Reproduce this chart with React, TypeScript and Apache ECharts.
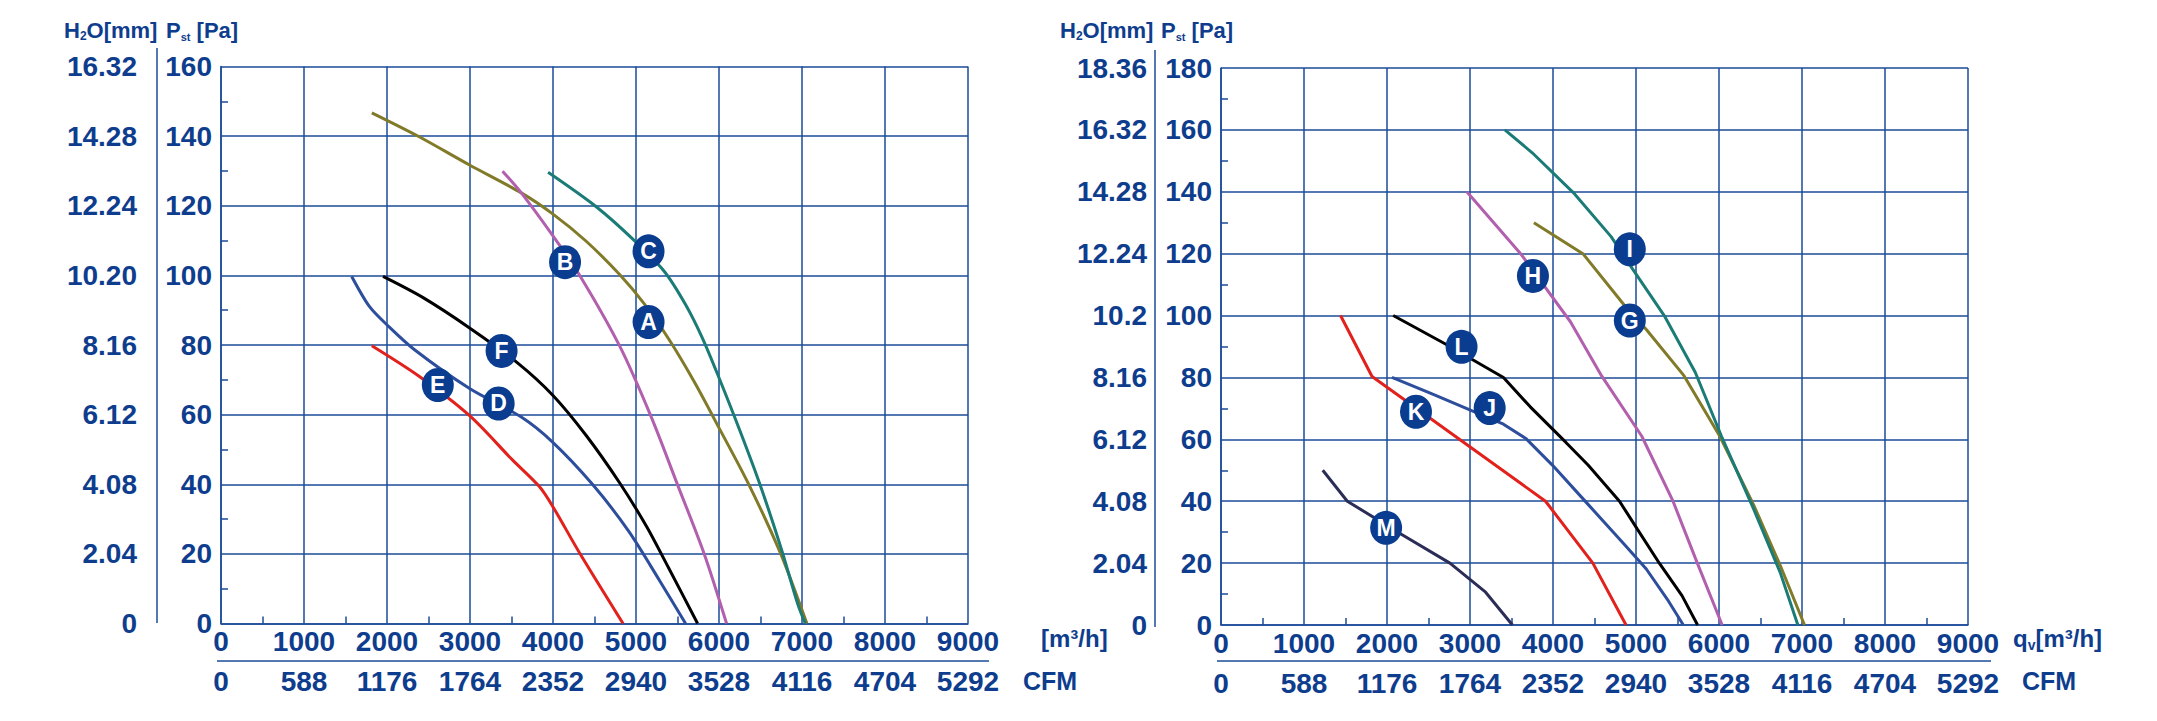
import React, { useEffect, useRef } from 'react';
import * as echarts from 'echarts';

// ---------- tick labels ----------
const FLOW_LABELS = ['0', '1000', '2000', '3000', '4000', '5000', '6000', '7000', '8000', '9000'];
const CFM_LABELS = ['0', '588', '1176', '1764', '2352', '2940', '3528', '4116', '4704', '5292'];
const H2O_LEFT = ['0', '2.04', '4.08', '6.12', '8.16', '10.20', '12.24', '14.28', '16.32'];
const H2O_RIGHT = ['0', '2.04', '4.08', '6.12', '8.16', '10.2', '12.24', '14.28', '16.32', '18.36'];

// ---------- left chart curves [m3/h, Pa] ----------
const curveA = [[1817, 146.7], [2382, 139.9], [2995, 131.7], [3618, 123.7], [4000, 117.6], [4400, 109.8], [4800, 100.3], [5100, 91.8], [5400, 81.5], [5700, 69.5], [6000, 56.2], [6360, 39.9], [6737, 20.4], [7059, 0]];
const curveB = [[3392, 129.9], [3618, 123.7], [3995, 111.5], [4317, 100.2], [4801, 79.8], [5177, 59.7], [5500, 39.9], [5823, 19.9], [6091, 0]];
const curveC = [[3941, 129.6], [4532, 119.5], [4962, 110.4], [5339, 101.2], [5600, 91.5], [5800, 82], [6000, 70.6], [6250, 55.5], [6500, 39.5], [6750, 21.5], [6950, 5.5], [7040, 0]];
const curveD = [[1575, 99.7], [1790, 91], [1995, 85.9], [2328, 78.7], [2995, 67.5], [3618, 59.3], [3995, 52.1], [4478, 39.9], [4909, 26.6], [5285, 12.3], [5597, 0]];
const curveE = [[1817, 79.8], [2382, 71.1], [2995, 59.7], [3511, 47], [3833, 39.4], [3995, 33.7], [4317, 20.4], [4844, 0]];
const curveF = [[1952, 99.7], [2435, 93.6], [2995, 84.9], [3565, 75], [4000, 65.5], [4400, 54], [4800, 40.5], [5124, 28], [5392, 16], [5742, 0]];

// ---------- right chart curves [m3/h, Pa] ----------
const curveG = [[3770, 130], [4360, 120], [4855, 103.5], [5124, 95.5], [5580, 80.5], [6010, 61], [6414, 39], [6737, 19.3], [7030, 0]];
const curveH = [[2962, 140], [3618, 119.7], [4210, 98], [4586, 80.5], [5070, 61], [5446, 40], [5715, 21.6], [6038, 0]];
const curveI = [[3420, 160], [3750, 152.6], [4260, 139.3], [4700, 125.5], [4960, 115], [5340, 100], [5715, 81.6], [6030, 61], [6414, 37.7], [6737, 17], [6950, 0]];
const curveJ = [[2060, 80], [2543, 74.7], [3403, 64.9], [3672, 60.3], [3995, 51.6], [4425, 38.9], [4855, 26.2], [5124, 18.1], [5392, 7.7], [5570, 0]];
const curveK = [[1440, 100], [1820, 80.3], [3910, 40], [4480, 20], [4880, 0]];
const curveL = [[2075, 100], [2704, 90.8], [3403, 80], [3726, 70.5], [4156, 59], [4425, 51.6], [4801, 40], [5016, 31], [5285, 19.8], [5554, 9.5], [5742, 0]];
const curveM = [[1226, 50], [1522, 40], [2167, 29.4], [2758, 20], [3188, 10.6], [3511, 0]];

// ---------- curve badges [letter, m3/h, Pa] ----------
const BADGES_LEFT: [string, number, number][] = [['A', 5151, 86.6], ['B', 4145, 103.8], ['C', 5151, 106.9], ['D', 3345, 63.2], ['E', 2612, 68.5], ['F', 3380, 78.3]];
const BADGES_RIGHT: [string, number, number][] = [['I', 4925, 121.4], ['H', 3758, 112.8], ['G', 4925, 98.4], ['L', 2898, 89.9], ['J', 3237, 70.1], ['K', 2349, 68.9], ['M', 1989, 31.4]];

const OLIVE = '#817a29';
const PURPLE = '#b25fae';
const TEAL = '#1b7b76';
const BLUE = '#2c4e9d';
const RED = '#e2211c';
const BLACK = '#000000';
const NAVY = '#2b2d57';

const LEFT_CURVES: [number[][], string][] = [[curveA, OLIVE], [curveB, PURPLE], [curveC, TEAL], [curveD, BLUE], [curveE, RED], [curveF, BLACK]];
const RIGHT_CURVES: [number[][], string][] = [[curveG, OLIVE], [curveH, PURPLE], [curveI, TEAL], [curveJ, BLUE], [curveK, RED], [curveL, BLACK], [curveM, NAVY]];

const AXIS_BLUE = '#1b4b99';
const TEXT_BLUE = '#0e3d8e';
const BADGE_BLUE = '#0a3c8f';
const FONT = '"Liberation Sans", Arial, Helvetica, sans-serif';

function flowAxis(gridIndex: number) {
  return {
    type: 'value', gridIndex, min: 0, max: 9000, interval: 1000,
    axisLine: { show: true, lineStyle: { color: AXIS_BLUE, width: 1.5 } },
    axisTick: { show: false, inside: true },
    minorTick: { show: true, splitNumber: 2, length: 7, lineStyle: { color: AXIS_BLUE, width: 1.5 } },
    splitLine: { show: true, lineStyle: { color: AXIS_BLUE, width: 1.5 } },
    axisLabel: {
      color: TEXT_BLUE, fontSize: 28, fontFamily: FONT, fontWeight: 'bold', margin: 4,
      formatter: (v: number) => FLOW_LABELS[Math.round(v / 1000)] ?? '',
    },
  };
}
function cfmAxis(gridIndex: number) {
  return {
    type: 'value', gridIndex, min: 0, max: 9000, interval: 1000, position: 'bottom', offset: 40,
    axisLine: { show: false }, axisTick: { show: false }, splitLine: { show: false },
    axisLabel: {
      color: TEXT_BLUE, fontSize: 28, fontFamily: FONT, fontWeight: 'bold', margin: 4,
      formatter: (v: number) => CFM_LABELS[Math.round(v / 1000)] ?? '',
    },
  };
}
function paAxis(gridIndex: number, max: number) {
  return {
    type: 'value', gridIndex, min: 0, max, interval: 20,
    axisLine: { show: true, lineStyle: { color: AXIS_BLUE, width: 1.5 } },
    axisTick: { show: false, inside: true },
    minorTick: { show: true, splitNumber: 2, length: 7, lineStyle: { color: AXIS_BLUE, width: 1.5 } },
    splitLine: { show: true, lineStyle: { color: AXIS_BLUE, width: 1.5 } },
    axisLabel: { color: TEXT_BLUE, fontSize: 28, fontFamily: FONT, fontWeight: 'bold', margin: 9, padding: [0, 0, 12, 0] },
  };
}
function h2oAxis(gridIndex: number, max: number, labels: string[], offset: number, margin: number) {
  return {
    type: 'value', gridIndex, min: 0, max, interval: 20, position: 'left', offset,
    axisLine: { show: false }, axisTick: { show: false }, splitLine: { show: false },
    axisLabel: {
      color: TEXT_BLUE, fontSize: 28, fontFamily: FONT, fontWeight: 'bold', margin, padding: [0, 0, 12, 0],
      formatter: (v: number) => labels[Math.round(v / 20)] ?? '',
    },
  };
}

const richBase = { fill: TEXT_BLUE, fontFamily: FONT, fontWeight: 'bold' };

function headerTexts(xH2O: number, xPa: number) {
  return [
    {
      type: 'text', x: xH2O, y: 30,
      style: {
        text: '{n|H}{s|2}{n|O[mm]}', verticalAlign: 'middle', align: 'left',
        rich: { n: { ...richBase, fontSize: 22, lineHeight: 24 }, s: { ...richBase, fontSize: 12, lineHeight: 24, verticalAlign: 'bottom' } },
      },
    },
    {
      type: 'text', x: xPa, y: 30,
      style: {
        text: '{n|P}{s|st}{n| [Pa]}', verticalAlign: 'middle', align: 'left',
        rich: { n: { ...richBase, fontSize: 22, lineHeight: 24 }, s: { ...richBase, fontSize: 11, lineHeight: 24, verticalAlign: 'bottom' } },
      },
    },
  ];
}

export default function App() {
  const ref = useRef<HTMLDivElement>(null);
  useEffect(() => {
    if (!ref.current) return;
    const chart = echarts.init(ref.current, undefined, { renderer: 'svg' });
    const series: any[] = [];
    LEFT_CURVES.forEach(([d, c]) => series.push({
      type: 'line', xAxisIndex: 0, yAxisIndex: 0, data: d, showSymbol: false, smooth: 0.3,
      lineStyle: { color: c, width: 3 }, z: 3,
    }));
    RIGHT_CURVES.forEach(([d, c]) => series.push({
      type: 'line', xAxisIndex: 2, yAxisIndex: 2, data: d, showSymbol: false, smooth: false,
      lineStyle: { color: c, width: 3 }, z: 3,
    }));
    const badgeSeries = (b: [string, number, number][], axis: number) => ({
      type: 'scatter', xAxisIndex: axis, yAxisIndex: axis, symbol: 'circle', symbolSize: [32, 34], z: 10,
      itemStyle: { color: BADGE_BLUE, opacity: 1 },
      label: { show: true, position: 'inside', formatter: '{b}', color: '#ffffff', fontSize: 23, fontWeight: 'bold', fontFamily: FONT },
      data: b.map(([n, x, y]) => ({ name: n, value: [x, y] })),
    });
    series.push(badgeSeries(BADGES_LEFT, 0));
    series.push(badgeSeries(BADGES_RIGHT, 2));

    const lineStyle = { stroke: AXIS_BLUE, lineWidth: 1.5 };
    const unitRich = { n: { ...richBase, fontSize: 24, lineHeight: 28 }, s: { ...richBase, fontSize: 14, lineHeight: 28, verticalAlign: 'bottom' } };

    chart.setOption({
      animation: false,
      backgroundColor: '#ffffff',
      grid: [
        { left: 221, top: 66.5, width: 747, height: 557 },
        { left: 1221, top: 68, width: 747, height: 557 },
      ],
      xAxis: [flowAxis(0), cfmAxis(0), flowAxis(1), cfmAxis(1)],
      yAxis: [paAxis(0, 160), h2oAxis(0, 160, H2O_LEFT, 64, 20), paAxis(1, 180), h2oAxis(1, 180, H2O_RIGHT, 66, 8)],
      series,
      graphic: [
        { type: 'line', shape: { x1: 157, y1: 48, x2: 157, y2: 623 }, style: lineStyle },
        { type: 'line', shape: { x1: 1155, y1: 50, x2: 1155, y2: 627 }, style: lineStyle },
        { type: 'line', shape: { x1: 217, y1: 661, x2: 989, y2: 661 }, style: lineStyle },
        { type: 'line', shape: { x1: 1217, y1: 661, x2: 1991, y2: 661 }, style: lineStyle },
        ...headerTexts(64, 166),
        ...headerTexts(1060, 1161),
        {
          type: 'text', x: 1041, y: 638,
          style: { text: '{n|[m³/h]}', verticalAlign: 'middle', align: 'left', rich: unitRich },
        },
        {
          type: 'text', x: 2013, y: 638,
          style: { text: '{n|q}{s|v}{n|[m³/h]}', verticalAlign: 'middle', align: 'left', rich: unitRich },
        },
        { type: 'text', x: 1023, y: 681, style: { text: 'CFM', fill: TEXT_BLUE, fontFamily: FONT, fontWeight: 'bold', fontSize: 25, verticalAlign: 'middle', align: 'left' } },
        { type: 'text', x: 2022, y: 681, style: { text: 'CFM', fill: TEXT_BLUE, fontFamily: FONT, fontWeight: 'bold', fontSize: 25, verticalAlign: 'middle', align: 'left' } },
      ],
    });
    return () => chart.dispose();
  }, []);
  return <div ref={ref} style={{ position: 'absolute', left: 0, top: 0, width: 2157, height: 721, background: '#fff' }} />;
}
